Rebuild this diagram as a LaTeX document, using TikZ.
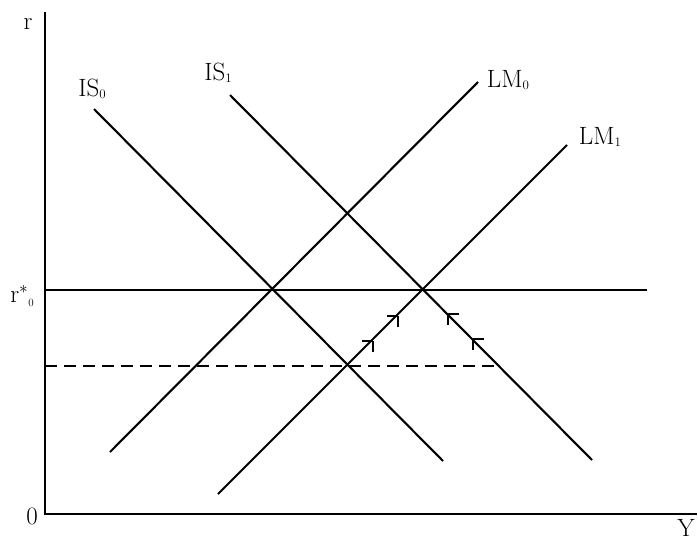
\documentclass[tikz,border=0pt]{standalone}
\begin{document}
\begin{tikzpicture}[x=1pt,y=-1pt,
  curve/.style={line width=2.1pt},
  axisline/.style={line width=2.1pt},
  lab/.style={font=\fontsize{25}{30}\selectfont, inner sep=0pt},
  harpoon/.style={line width=2pt}]
\useasboundingbox (0,0) rectangle (698,541);

% axes
\coordinate (ytop) at (45,12);
\coordinate (O) at (45,514);
\coordinate (xend) at (697,514);
\draw[axisline] (ytop) -- (O) -- (xend);
\node[lab] (rlab) at (28,24) {r};
\node[lab] (zero) at (32,516) {0};
\node[lab] (Ylab) at (686,528) {Y};

% IS and LM curves
\coordinate (is0a) at (94,109);
\coordinate (is0b) at (443,461);
\coordinate (is1a) at (230,95);
\coordinate (is1b) at (592,460);
\coordinate (lm0a) at (110,452);
\coordinate (lm0b) at (478,82);
\coordinate (lm1a) at (218,494);
\coordinate (lm1b) at (567,145);
\draw[curve] (is0a) -- (is0b);
\draw[curve] (is1a) -- (is1b);
\draw[curve] (lm0a) -- (lm0b);
\draw[curve] (lm1a) -- (lm1b);

\node[lab] (IS0) at (92,89) {IS\raisebox{-2pt}{\fontsize{13}{15}\selectfont 0}};
\node[lab] (IS1) at (218,73) {IS\raisebox{-2pt}{\fontsize{13}{15}\selectfont 1}};
\node[lab] (LM0) at (508,80) {LM\raisebox{-2pt}{\fontsize{13}{15}\selectfont 0}};
\node[lab] (LM1) at (600,137) {LM\raisebox{-2pt}{\fontsize{13}{15}\selectfont 1}};

% world interest rate and lower rate
\coordinate (rstarA) at (45,290);
\coordinate (rstarB) at (647,290);
\draw[curve] (rstarA) -- (rstarB);
\node[lab] (rstar) at (22,296) {r$^{*}$\raisebox{-4pt}{\fontsize{11}{13}\selectfont 0}};
\coordinate (dashA) at (45,366);
\coordinate (dashB) at (498,366);
\draw[curve, dash pattern=on 12pt off 7pt] (dashA) -- (dashB);

% adjustment arrows along LM1 and IS1
\coordinate (h1) at (373,341);
\coordinate (h2) at (398,316);
\coordinate (h3) at (448,314);
\coordinate (h4) at (473,339);
\foreach \p in {h1,h2}{
  \draw[harpoon] (\p) -- ++(-11,0);
  \draw[harpoon] (\p) -- ++(0,11);
}
\foreach \p in {h3,h4}{
  \draw[harpoon] (\p) -- ++(11,0);
  \draw[harpoon] (\p) -- ++(0,11);
}
\end{tikzpicture}
\end{document}
